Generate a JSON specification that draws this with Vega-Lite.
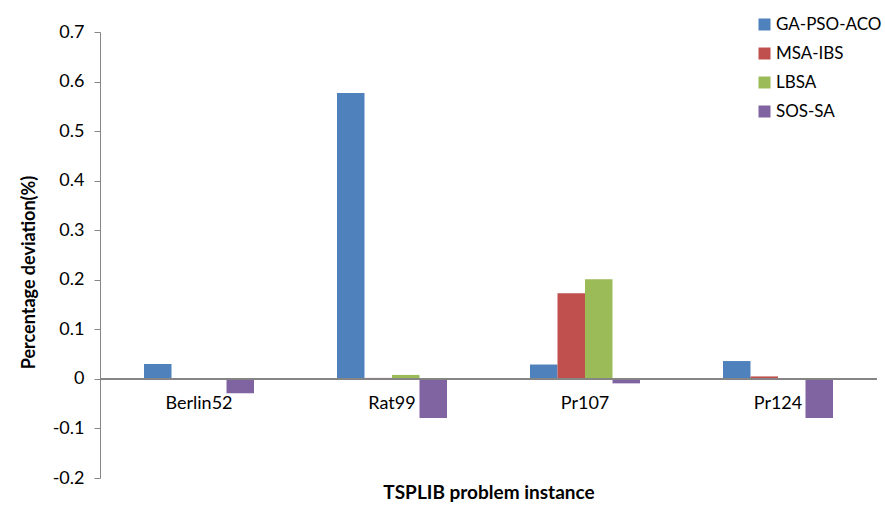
{
  "$schema": "https://vega.github.io/schema/vega-lite/v6.json",
  "width": 777,
  "height": 446,
  "autosize": {"type": "none"},
  "padding": {"left": 100, "top": 32, "right": 8, "bottom": 29},
  "background": "white",
  "config": {
    "view": {"stroke": null},
    "font": "Lato",
    "locale": {
      "number": {"decimal": ".", "thousands": ",", "grouping": [3], "currency": ["$", ""], "minus": "-"}
    },
    "axis": {"labelFont": "Lato", "titleFont": "Lato", "labelColor": "#000000", "titleColor": "#000000"},
    "legend": {"labelFont": "Lato"}
  },
  "data": {
    "values": [
      {"instance": "Berlin52", "method": "GA-PSO-ACO", "deviation": 0.030},
      {"instance": "Berlin52", "method": "MSA-IBS", "deviation": 0.0},
      {"instance": "Berlin52", "method": "LBSA", "deviation": 0.0},
      {"instance": "Berlin52", "method": "SOS-SA", "deviation": -0.029},
      {"instance": "Rat99", "method": "GA-PSO-ACO", "deviation": 0.577},
      {"instance": "Rat99", "method": "MSA-IBS", "deviation": 0.002},
      {"instance": "Rat99", "method": "LBSA", "deviation": 0.008},
      {"instance": "Rat99", "method": "SOS-SA", "deviation": -0.079},
      {"instance": "Pr107", "method": "GA-PSO-ACO", "deviation": 0.029},
      {"instance": "Pr107", "method": "MSA-IBS", "deviation": 0.173},
      {"instance": "Pr107", "method": "LBSA", "deviation": 0.201},
      {"instance": "Pr107", "method": "SOS-SA", "deviation": -0.009},
      {"instance": "Pr124", "method": "GA-PSO-ACO", "deviation": 0.036},
      {"instance": "Pr124", "method": "MSA-IBS", "deviation": 0.005},
      {"instance": "Pr124", "method": "LBSA", "deviation": 0.001},
      {"instance": "Pr124", "method": "SOS-SA", "deviation": -0.079}
    ]
  },
  "layer": [
    {
      "mark": {"type": "bar"},
      "encoding": {
        "x": {
          "field": "instance",
          "type": "nominal",
          "sort": ["Berlin52", "Rat99", "Pr107", "Pr124"],
          "scale": {"paddingInner": 0.43, "paddingOuter": 0.228},
          "axis": {
            "title": "TSPLIB problem instance",
            "titleFontSize": 19,
            "titleFontWeight": "bold",
            "titleY": 5,
            "titleBaseline": "top",
            "labelAngle": 0,
            "labelFontSize": 18,
            "labelPadding": -84,
            "domain": false,
            "ticks": false
          }
        },
        "xOffset": {
          "field": "method",
          "type": "nominal",
          "sort": ["GA-PSO-ACO", "MSA-IBS", "LBSA", "SOS-SA"]
        },
        "y": {
          "field": "deviation",
          "type": "quantitative",
          "scale": {"domain": [-0.2, 0.7], "nice": false, "zero": false},
          "axis": {
            "title": "Percentage deviation(%)",
            "titleFontSize": 18,
            "titleFontWeight": "bold",
            "titlePadding": 14,
            "titleY": 240,
            "values": [-0.2, -0.1, 0, 0.1, 0.2, 0.3, 0.4, 0.5, 0.6, 0.7],
            "format": ".1~f",
            "labelFontSize": 18,
            "labelPadding": 10,
            "tickSize": 6,
            "tickColor": "#868686",
            "domainColor": "#868686",
            "grid": false
          }
        },
        "color": {
          "field": "method",
          "type": "nominal",
          "sort": ["GA-PSO-ACO", "MSA-IBS", "LBSA", "SOS-SA"],
          "scale": {
            "domain": ["GA-PSO-ACO", "MSA-IBS", "LBSA", "SOS-SA"],
            "range": ["#4F81BD", "#C0504D", "#9BBB59", "#8064A2"]
          },
          "legend": {
            "title": null,
            "orient": "none",
            "legendX": 656,
            "legendY": -16,
            "symbolType": "square",
            "symbolSize": 144,
            "symbolStrokeWidth": 0,
            "labelFontSize": 17,
            "labelOffset": 3,
            "rowPadding": 11
          }
        }
      }
    },
    {
      "mark": {"type": "rule", "color": "#868686", "strokeWidth": 1},
      "encoding": {"y": {"datum": 0}}
    }
  ]
}
